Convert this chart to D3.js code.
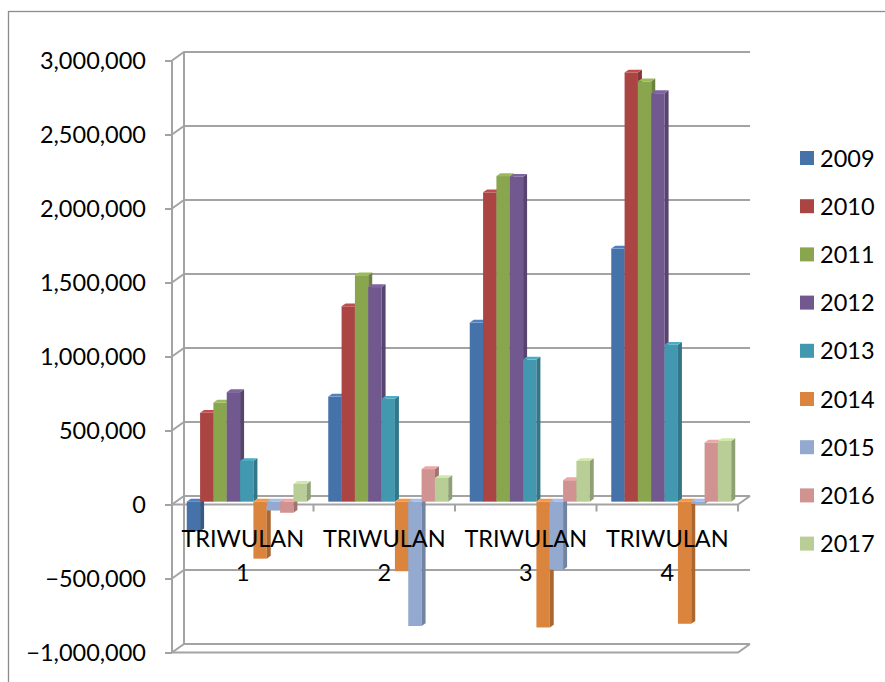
<!DOCTYPE html>
<html>
<head>
<meta charset="utf-8">
<script src="https://cdn.jsdelivr.net/npm/d3@7/dist/d3.min.js"></script>
<style>
  html, body { margin: 0; padding: 0; background: #fff; }
  svg { display: block; font-family: Lato, "Open Sans", sans-serif; }
</style>
</head>
<body>
<svg id="chart" width="885" height="682"></svg>
<script>
// Quarterly values per year (3D clustered columns)
const categories = ["TRIWULAN 1", "TRIWULAN 2", "TRIWULAN 3", "TRIWULAN 4"];
const years = ["2009", "2010", "2011", "2012", "2013", "2014", "2015", "2016", "2017"];
const v2009 = [-200000, 710000, 1210000, 1710000];
const v2010 = [600000, 1320000, 2090000, 2900000];
const v2011 = [670000, 1530000, 2200000, 2840000];
const v2012 = [740000, 1450000, 2195000, 2760000];
const v2013 = [275000, 695000, 960000, 1060000];
const v2014 = [-385000, -470000, -850000, -825000];
const v2015 = [-60000, -840000, -460000, -15000];
const v2016 = [-75000, 220000, 145000, 400000];
const v2017 = [120000, 160000, 275000, 410000];
const yTicks = [-1000000, -500000, 0, 500000, 1000000, 1500000, 2000000, 2500000, 3000000];
const colors = ["#4672AA", "#AA4543", "#89A54E", "#71588F", "#4198AF", "#DB843D", "#93A9CF", "#D19392", "#B9CD96"];

const seriesValues = [v2009, v2010, v2011, v2012, v2013, v2014, v2015, v2016, v2017];

const svg = d3.select("#chart");

// outer chart frame
svg.append("rect")
  .attr("x", 8.5).attr("y", 11.5).attr("width", 1000).attr("height", 1000)
  .attr("fill", "none").attr("stroke", "#8c8c8c").attr("stroke-width", 1.3);

// front plane of the plot
const left = 172, right = 738;
const y = d3.scaleLinear().domain([-1000000, 3000000]).range([652.5, 60.5]);
const x = d3.scaleBand().domain(categories).range([left, right])
  .paddingInner(0.152).paddingOuter(0.076);
const xs = d3.scaleBand().domain(years).range([0, x.bandwidth()]);

// depth vector from front to back wall
const DX = 12, DY = -8.5;
const gridColor = "#a3a3a3";

const walls = svg.append("g").attr("fill", "none").attr("stroke", gridColor).attr("stroke-width", 2);

// side wall edges
walls.append("line").attr("x1", left).attr("x2", left).attr("y1", y(3000000)).attr("y2", y(-1000000));
walls.append("line").attr("x1", left + DX).attr("x2", left + DX).attr("y1", y(3000000) + DY).attr("y2", y(-1000000) + DY);

// gridlines: across the side wall and along the back wall
yTicks.forEach(t => {
  walls.append("polyline")
    .attr("points", [[left, y(t)], [left + DX, y(t) + DY], [right + DX, y(t) + DY]].map(p => p.join(",")).join(" "));
});

// floor at the axis minimum
walls.append("polyline")
  .attr("points", [[left, y(-1000000)], [right, y(-1000000)], [right + DX, y(-1000000) + DY]].map(p => p.join(",")).join(" "));

// category axis plane at zero
walls.append("polyline")
  .attr("points", [[left, y(0)], [right, y(0)], [right + DX, y(0) + DY]].map(p => p.join(",")).join(" "));

// category ticks
const catEdges = categories.map(c => x(c) - x.step() * x.paddingInner() / 2);
catEdges.push(right);
catEdges[0] = left;
walls.selectAll("line.ct").data(catEdges).join("line").attr("class", "ct")
  .attr("x1", d => d).attr("x2", d => d)
  .attr("y1", y(0)).attr("y2", y(0) + 7);

// value axis (tick marks and labels)
const yAxis = d3.axisLeft(y).tickValues(yTicks).tickSize(7).tickPadding(19)
  .tickFormat(d3.format(","));
const ax = svg.append("g").attr("transform", `translate(${left},0)`).call(yAxis);
ax.select(".domain").remove();
ax.selectAll(".tick line").attr("stroke", gridColor).attr("stroke-width", 2);
ax.selectAll(".tick text").attr("fill", "#000").style("font-size", "23.5px")
  .style("font-family", "Lato, 'Open Sans', sans-serif");

// 3D columns: front face, top face, right side face
const ox = DX / 3, oy = DY / 3;   // front of the columns sits a third into the depth
const bx = DX / 3, by = DY / 3;   // column depth
const bars = svg.append("g");
categories.forEach((c, ci) => {
  years.forEach((yr, si) => {
    const v = seriesValues[si][ci];
    const col = d3.color(colors[si]);
    const xl = x(c) + xs(yr) + ox;
    const w = xs.bandwidth();
    const yt = y(Math.max(v, 0)) + oy;
    const yb = y(Math.min(v, 0)) + oy;
    const g = bars.append("g");
    g.append("rect").attr("x", xl).attr("y", yt).attr("width", w).attr("height", Math.max(yb - yt, 0.5))
      .attr("fill", col.formatHex());
    g.append("polygon")
      .attr("points", [[xl + w, yt], [xl + w + bx, yt + by], [xl + w + bx, yb + by], [xl + w, yb]].map(p => p.join(",")).join(" "))
      .attr("fill", col.darker(0.7).formatHex());
    g.append("polygon")
      .attr("points", [[xl, yt], [xl + w, yt], [xl + w + bx, yt + by], [xl + bx, yt + by]].map(p => p.join(",")).join(" "))
      .attr("fill", col.brighter(0.35).formatHex());
  });
});

// category labels, two lines each
const labels = svg.append("g").attr("text-anchor", "middle").style("font-size", "23.5px").attr("fill", "#000");
categories.forEach(c => {
  const cx = x(c) + x.bandwidth() / 2;
  const parts = c.split(" ");
  labels.append("text").attr("x", cx).attr("y", 547).text(parts[0]);
  labels.append("text").attr("x", cx).attr("y", 581).text(parts[1]);
});

// legend
const legend = svg.append("g").attr("transform", "translate(800,158)");
years.forEach((yr, i) => {
  const row = legend.append("g").attr("transform", `translate(0,${i * 48.2})`);
  row.append("rect").attr("x", 0).attr("y", -7).attr("width", 14).attr("height", 14).attr("fill", colors[i]);
  row.append("text").attr("x", 20).attr("y", 8.5).style("font-size", "23.5px").attr("fill", "#000").text(yr);
});
</script>
</body>
</html>
